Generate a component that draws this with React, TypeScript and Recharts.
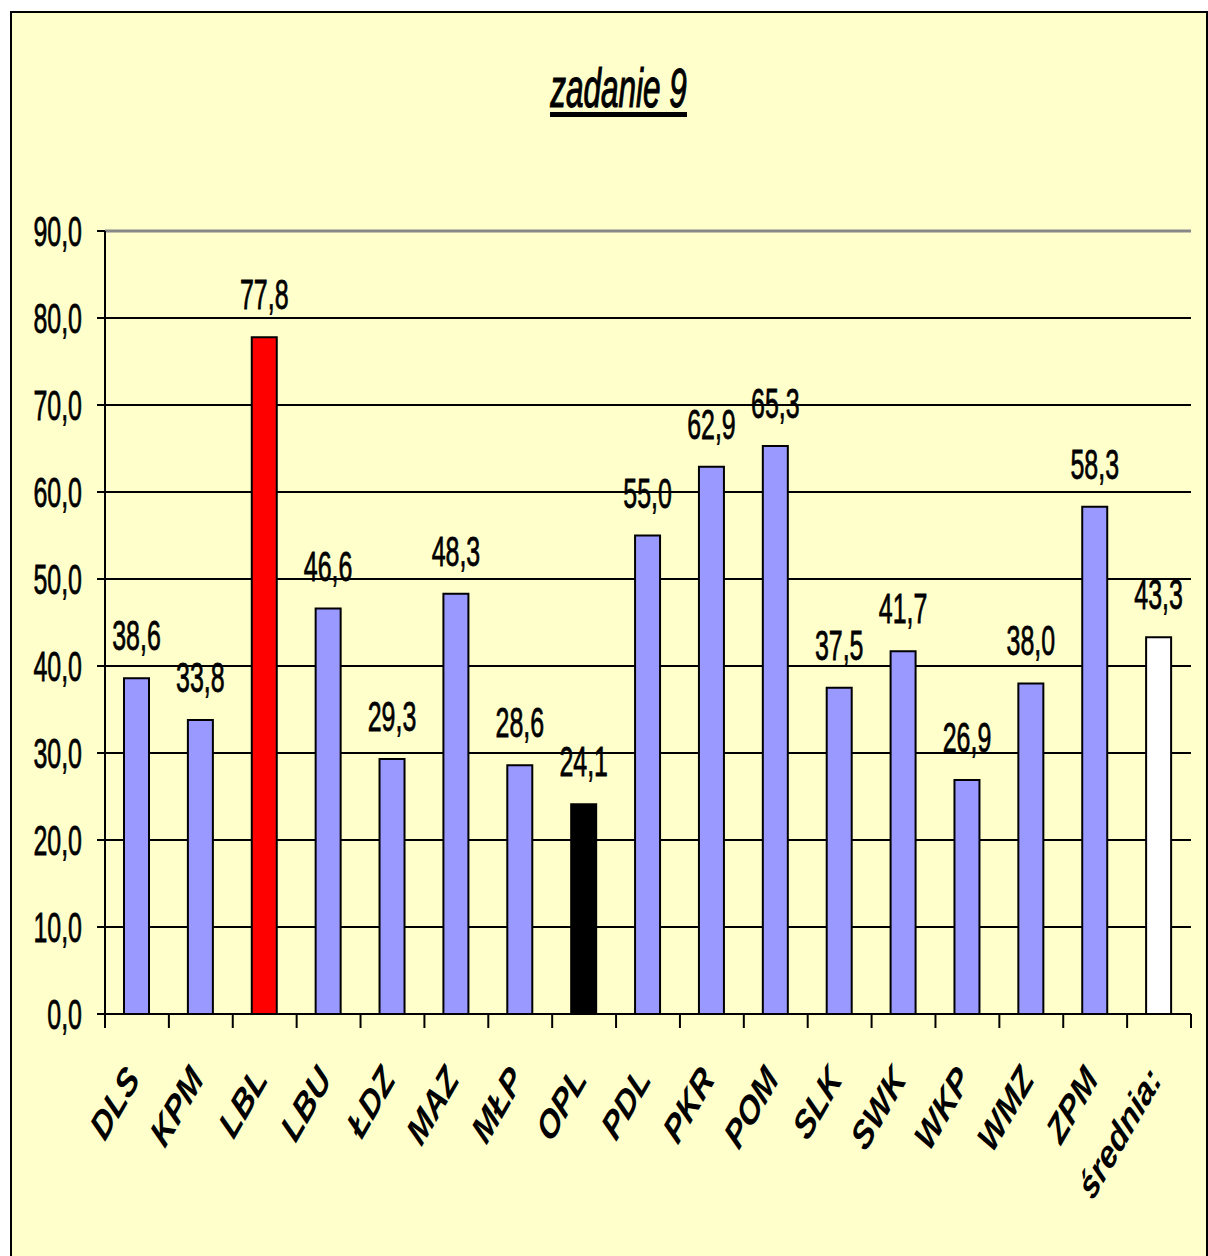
import React from "react";
import {
  Bar,
  BarChart,
  CartesianGrid,
  Cell,
  LabelList,
  ReferenceLine,
  XAxis,
  YAxis,
} from "recharts";

const regions = [
  "DLS", "KPM", "LBL", "LBU", "ŁDZ", "MAZ", "MŁP", "OPL", "PDL",
  "PKR", "POM", "SLK", "SWK", "WKP", "WMZ", "ZPM", "średnia:",
];
const scores = [
  38.6, 33.8, 77.8, 46.6, 29.3, 48.3, 28.6, 24.1, 55.0,
  62.9, 65.3, 37.5, 41.7, 26.9, 38.0, 58.3, 43.3,
];
const barColors = [
  "#9999FF", "#9999FF", "#FF0000", "#9999FF", "#9999FF", "#9999FF", "#9999FF", "#000000", "#9999FF",
  "#9999FF", "#9999FF", "#9999FF", "#9999FF", "#9999FF", "#9999FF", "#9999FF", "#FFFFFF",
];
const yTicks = [0, 10, 20, 30, 40, 50, 60, 70, 80, 90];
const yMax = 90;
const title = "zadanie 9";

const data = regions.map((name, i) => ({ name, value: scores[i] }));

const W = 1196;
const H = 1245;
const M = { top: 220, right: 15, left: 0, bottom: 0 };
const Y_W = 95;
const BAND = (W - M.left - M.right - Y_W) / regions.length;
const SANS = "'Liberation Sans', Arial, sans-serif";

const fmt = (v: number) => v.toFixed(1).replace(".", ",");

// narrow, tall numbers like the Excel export
function NumText({ x, y, anchor, children }: any) {
  return (
    <text
      transform={`translate(${x},${y}) scale(0.78,1.3)`}
      textAnchor={anchor}
      fontFamily={SANS}
      fontSize={32}
      fill="#000"
      stroke="#000"
      strokeWidth={0.6}
    >
      {children}
    </text>
  );
}

function YTick(props: any) {
  const { x, y, payload } = props;
  return (
    <NumText x={x} y={y + 15} anchor="end">
      {fmt(payload.value)}
    </NumText>
  );
}

function XTick(props: any) {
  const { x, y, payload, index } = props;
  const last = index === regions.length - 1;
  return (
    <g>
      <line x1={x - BAND / 2} y1={y} x2={x - BAND / 2} y2={y + 14} stroke="#000" strokeWidth={2} />
      {last && (
        <line x1={x + BAND / 2} y1={y} x2={x + BAND / 2} y2={y + 14} stroke="#000" strokeWidth={2} />
      )}
      <text
        transform={`translate(${x + 4},${y + 66}) scale(1,1.3) rotate(-53)`}
        textAnchor="end"
        fontFamily={SANS}
        fontWeight="bold"
        fontStyle="italic"
        fontSize={30}
        fill="#000"
      >
        {payload.value}
      </text>
    </g>
  );
}

function ValueLabel(props: any) {
  const { x, y, width, value } = props;
  return (
    <NumText x={x + width / 2} y={y - 28} anchor="middle">
      {fmt(value)}
    </NumText>
  );
}

export default function App() {
  return (
    <div style={{ position: "absolute", left: 0, top: 0, width: 1208, height: 1256, background: "#fff", overflow: "hidden" }}>
      <div
        style={{
          position: "absolute",
          left: 10,
          top: 11,
          width: W - 2,
          height: H + 10,
          background: "#FFFFCC",
          border: "2px solid #000",
        }}
      >
        <BarChart
          width={W}
          height={H}
          data={data}
          margin={M}
          barSize={25}
          style={{ position: "absolute", left: -2, top: -2 }}
        >
          <CartesianGrid vertical={false} stroke="#000" strokeWidth={2} />
          <XAxis
            dataKey="name"
            interval={0}
            tickLine={false}
            tickSize={0}
            tickMargin={0}
            axisLine={{ stroke: "#000", strokeWidth: 2 }}
            tick={<XTick />}
            height={H - M.top - 783}
          />
          <YAxis
            domain={[0, yMax]}
            ticks={yTicks}
            width={Y_W}
            tickSize={8}
            tickMargin={15}
            tickLine={{ stroke: "#000", strokeWidth: 2 }}
            axisLine={{ stroke: "#000", strokeWidth: 2 }}
            tick={<YTick />}
          />
          <YAxis
            yAxisId="frame"
            orientation="right"
            width={0}
            tick={false}
            tickLine={false}
            axisLine={{ stroke: "#888", strokeWidth: 3 }}
          />
          <ReferenceLine y={yMax} stroke="#888" strokeWidth={3} />
          <Bar dataKey="value" stroke="#000" strokeWidth={2} isAnimationActive={false}>
            {data.map((d, i) => (
              <Cell key={d.name} fill={barColors[i]} />
            ))}
            <LabelList dataKey="value" content={<ValueLabel />} />
          </Bar>
        </BarChart>
        <svg
          width={W}
          height={140}
          style={{ position: "absolute", left: -2, top: -2 }}
        >
          <text
            transform="translate(608.5,96) scale(0.75,1.33)"
            textAnchor="middle"
            fontFamily={SANS}
            fontStyle="italic"
            fontSize={42}
            fill="#000"
            stroke="#000"
            strokeWidth={0.9}
          >
            {title}
          </text>
          <rect x={540} y={101} width={137} height={5} fill="#000" />
        </svg>
      </div>
    </div>
  );
}
